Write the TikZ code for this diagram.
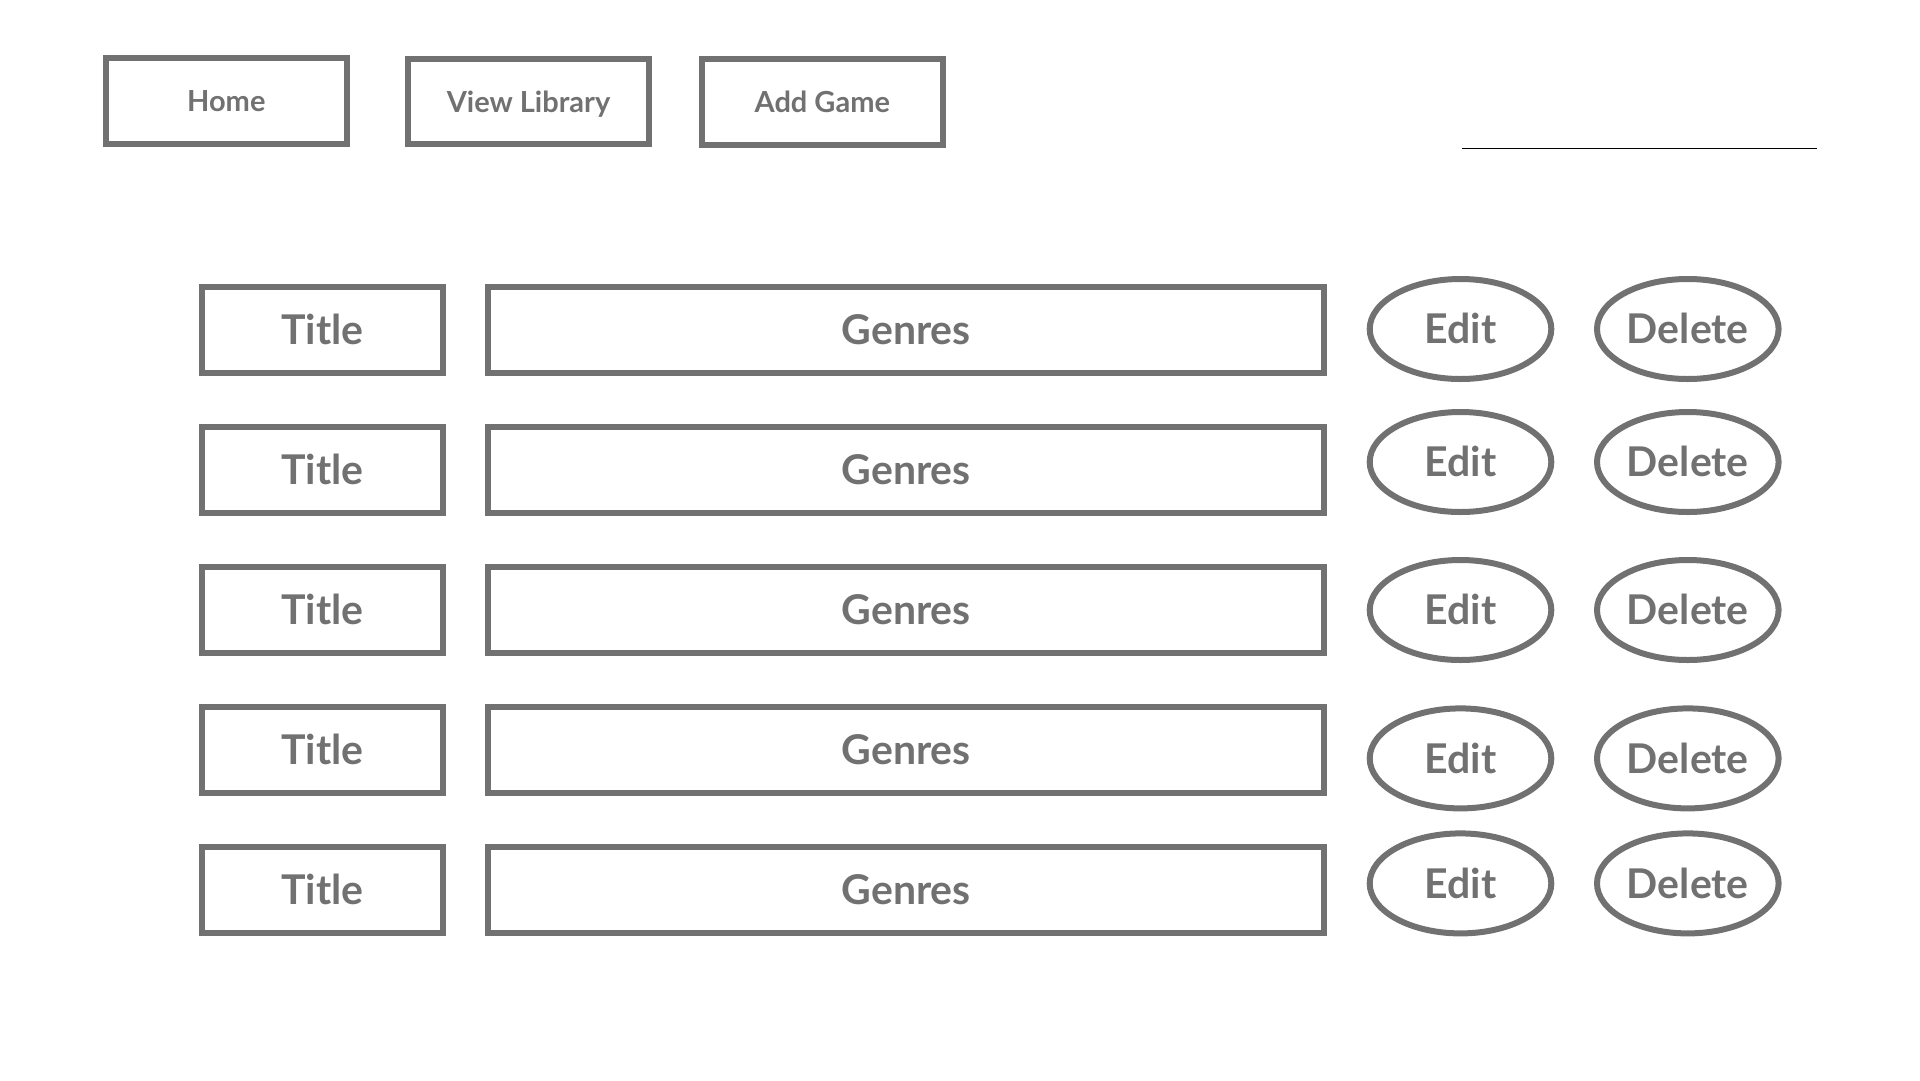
\documentclass[tikz,border=0pt]{standalone}
\usepackage{fontspec}
\setmainfont{Lato}
\usetikzlibrary{shapes.geometric}
\definecolor{wire}{HTML}{717171}
\begin{document}
\begin{tikzpicture}[x=1pt,y=-1pt,
  box/.style={draw=wire, line width=6pt, rectangle, inner sep=0pt, text=wire,
    font=\bfseries\fontsize{41}{41}\selectfont, text height=29.4pt, text depth=0pt},
  navbox/.style={box, font=\bfseries\fontsize{29}{29}\selectfont, text height=20.8pt,
    minimum width=240.5pt, minimum height=85.7pt},
  titlebox/.style={box, minimum width=240.7pt, minimum height=85.7pt},
  genrebox/.style={box, minimum width=836.3pt, minimum height=85.7pt},
  btn/.style={box, ellipse, inner xsep=-35pt, inner ysep=0pt,
    minimum width=181.6pt, minimum height=100pt},
  rule/.style={draw=black, line width=1.3pt}
]
\useasboundingbox (0,0) rectangle (1920,1080);
% navigation
\node[navbox] (home) at (226.3,100.8) {Home};
\node[navbox] (view) at (528.5,101.6) {View Library};
\node[navbox] (add)  at (822.3,101.7) {Add Game};
% search underline
\coordinate (s1) at (1462,148.3);
\coordinate (s2) at (1816.7,148.3);
\draw[rule] (s1) -- (s2);
% rows
\foreach \y/\ey [count=\i] in {330/329, 470/462, 610/610, 750/758.4, 890/883.4} {
  \node[titlebox] (title\i) at (322.3,\y) {Title};
  \node[genrebox] (genres\i) at (906.2,\y) {Genres};
  \node[btn] (edit\i) at (1460.5,\ey) {Edit};
  \node[btn] (delete\i) at (1687.8,\ey) {Delete};
}
\end{tikzpicture}
\end{document}
